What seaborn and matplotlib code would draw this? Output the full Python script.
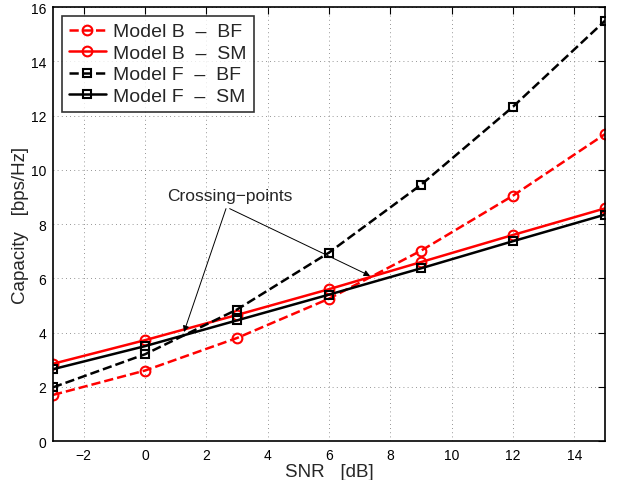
import matplotlib
matplotlib.use("Agg")
import matplotlib.pyplot as plt
import seaborn as sns
import pandas as pd

snr_db = [-3, 0, 3, 6, 9, 12, 15]
model_b_bf = [1.70, 2.60, 3.80, 5.25, 7.02, 9.05, 11.32]
model_b_sm = [2.85, 3.72, 4.65, 5.60, 6.60, 7.60, 8.58]
model_f_bf = [1.98, 3.20, 4.85, 6.95, 9.45, 12.33, 15.50]
model_f_sm = [2.65, 3.50, 4.45, 5.40, 6.37, 7.37, 8.35]

series_labels = ["Model B  \u2013  BF", "Model B  \u2013  SM",
                 "Model F  \u2013  BF", "Model F  \u2013  SM"]
x_ticks = [-2, 0, 2, 4, 6, 8, 10, 12, 14]
y_ticks = [0, 2, 4, 6, 8, 10, 12, 14, 16]
annotation_text = "Crossing\u2212points"
crossings = [(1.27, 4.02), (7.34, 6.09)]

sns.set_style("white")
plt.rcParams["font.family"] = ["Liberation Sans", "DejaVu Sans"]
plt.rcParams["axes.unicode_minus"] = True

fig = plt.figure(figsize=(6.18, 4.81), dpi=100)
ax = fig.add_axes([0.0858, 0.081, 0.8932, 0.902])

styles = [
    (model_b_bf, "red", "--", "o"),
    (model_b_sm, "red", "-", "o"),
    (model_f_bf, "black", "--", "s"),
    (model_f_sm, "black", "-", "s"),
]

for (vals, color, ls, mk), label in zip(styles, series_labels):
    df = pd.DataFrame({"snr": snr_db, "cap": vals})
    kw = dict(dashes=(4, 2.5)) if ls == "--" else {}
    sns.lineplot(data=df, x="snr", y="cap", ax=ax, color=color,
                 linestyle=ls, linewidth=1.8, marker=mk,
                 markersize=7 if mk == "o" else 6,
                 markerfacecolor="none", markeredgecolor=color,
                 markeredgewidth=1.5, label=label, **kw)

ax.set_xlim(-3, 15)
ax.set_ylim(0, 16)
ax.set_xticks(x_ticks)
ax.set_yticks(y_ticks)
ax.tick_params(direction="in", top=True, right=True, length=5,
               width=0.8, labelsize=10, pad=5, colors="black")
ax.grid(True, linestyle=(0, (1, 4)), linewidth=0.6, color="0.45")
for sp in ax.spines.values():
    sp.set_color("black")
    sp.set_linewidth(1.2)

ax.set_xlabel("SNR   [dB]", fontsize=13.5, labelpad=1)
ax.set_ylabel("Capacity   [bps/Hz]", fontsize=13.5, labelpad=1)

leg = ax.legend(loc="upper left", bbox_to_anchor=(0.0, 1.0),
                fontsize=14, frameon=True, fancybox=False,
                handlelength=1.9, handletextpad=0.4, borderpad=0.35,
                labelspacing=0.2, borderaxespad=0.45)
leg.get_frame().set_edgecolor("black")
leg.get_frame().set_linewidth(1.2)

ax.text(2.77, 9.04, annotation_text, fontsize=12.5, ha="center", va="center")
starts = [(2.64, 8.57), (2.76, 8.57)]
for (sx, sy), (tx, ty) in zip(starts, crossings):
    ax.annotate("", xy=(tx, ty), xytext=(sx, sy),
                arrowprops=dict(arrowstyle="-|>", color="black", lw=0.7,
                                mutation_scale=9, shrinkA=0, shrinkB=0))

fig.savefig("out.png", dpi=100)
